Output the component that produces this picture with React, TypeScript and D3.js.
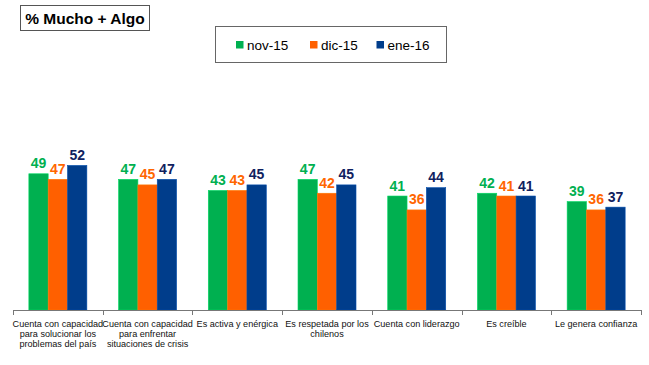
import React, { useEffect, useRef } from "react";
import * as d3 from "d3";

const categories = [
  ["Cuenta con capacidad", "para solucionar los", "problemas del país"],
  ["Cuenta con capacidad", "para enfrentar", "situaciones de crisis"],
  ["Es activa y enérgica"],
  ["Es respetada por los", "chilenos"],
  ["Cuenta con liderazgo"],
  ["Es creíble"],
  ["Le genera confianza"],
];
const seriesNames = ["nov-15", "dic-15", "ene-16"];
const nov15 = [49, 47, 43, 47, 41, 42, 39];
const dic15 = [47, 45, 43, 42, 36, 41, 36];
const ene16 = [52, 47, 45, 45, 44, 41, 37];
const barColors = ["#00B050", "#FF6000", "#003D8B"];
const labelColors = ["#00B050", "#FF6600", "#0F2160"];

const W = 649;
const H = 365;

const App = () => {
  const ref = useRef<SVGSVGElement>(null);

  useEffect(() => {
    const svg = d3.select(ref.current);
    svg.selectAll("*").remove();

    const values = [nov15, dic15, ene16];
    const keys = categories.map((c, i) => String(i));

    const x0 = d3.scaleBand().domain(keys).range([13, 641]).padding(0);
    const x1 = d3
      .scaleBand()
      .domain(seriesNames)
      .range([0, x0.bandwidth()])
      .paddingInner(0)
      .paddingOuter(0.82);
    const y = d3.scaleLinear().domain([0, 60]).range([310, 143.2]);

    // title box
    svg
      .append("rect")
      .attr("x", 20.5)
      .attr("y", 5.5)
      .attr("width", 129)
      .attr("height", 25)
      .attr("fill", "#fff")
      .attr("stroke", "#555")
      .attr("stroke-width", 1);
    svg
      .append("text")
      .attr("x", 85)
      .attr("y", 24)
      .attr("text-anchor", "middle")
      .style("font-family", "'Liberation Sans', Arial, sans-serif")
      .style("font-weight", "bold")
      .style("font-size", "15.5px")
      .attr("fill", "#000")
      .text("% Mucho + Algo");

    // legend
    svg
      .append("rect")
      .attr("x", 215.5)
      .attr("y", 26.5)
      .attr("width", 231)
      .attr("height", 36)
      .attr("fill", "#fff")
      .attr("stroke", "#666")
      .attr("stroke-width", 1);
    const legendX = [236, 310, 376.5];
    seriesNames.forEach((s, i) => {
      const g = svg.append("g").attr("transform", `translate(${legendX[i]},0)`);
      g.append("rect")
        .attr("x", 0)
        .attr("y", 41)
        .attr("width", 7.5)
        .attr("height", 7.5)
        .attr("fill", barColors[i]);
      g.append("text")
        .attr("x", 11)
        .attr("y", 49.5)
        .style("font-family", "'Liberation Sans', Arial, sans-serif")
        .style("font-size", "13.5px")
        .attr("fill", "#000")
        .text(s);
    });

    // bars
    const groups = svg
      .append("g")
      .selectAll("g")
      .data(keys)
      .join("g")
      .attr("transform", (k) => `translate(${x0(k)},0)`);

    seriesNames.forEach((s, si) => {
      groups
        .append("rect")
        .attr("x", x1(s)!)
        .attr("y", (k) => y(values[si][+k]))
        .attr("width", x1.bandwidth())
        .attr("height", (k) => y(0) - y(values[si][+k]))
        .attr("fill", barColors[si])
        .attr("stroke", d3.color(barColors[si])!.brighter(0.6).toString())
        .attr("stroke-width", 0.6);
      groups
        .append("text")
        .attr("x", x1(s)! + x1.bandwidth() / 2)
        .attr("y", (k) => y(values[si][+k]) - 5.5)
        .attr("text-anchor", "middle")
        .style("font-family", "'Liberation Sans', Arial, sans-serif")
        .style("font-weight", "bold")
        .style("font-size", "14px")
        .attr("fill", labelColors[si])
        .text((k) => values[si][+k]);
    });

    // axis
    const axis = svg.append("g");
    axis
      .append("line")
      .attr("x1", 13)
      .attr("x2", 641)
      .attr("y1", 310.5)
      .attr("y2", 310.5)
      .attr("stroke", "#777")
      .attr("stroke-width", 1);
    const bounds = keys.map((k) => x0(k)!).concat([641]);
    axis
      .selectAll("line.tick")
      .data(bounds)
      .join("line")
      .attr("class", "tick")
      .attr("x1", (d) => Math.round(d) + 0.5)
      .attr("x2", (d) => Math.round(d) + 0.5)
      .attr("y1", 310)
      .attr("y2", 315)
      .attr("stroke", "#777")
      .attr("stroke-width", 1);

    // category labels
    const lbl = svg
      .append("g")
      .selectAll("text")
      .data(keys)
      .join("text")
      .attr("text-anchor", "middle")
      .style("font-family", "'Liberation Sans', Arial, sans-serif")
      .style("font-size", "9.1px")
      .attr("fill", "#111");
    lbl
      .selectAll("tspan")
      .data((k) => categories[+k].map((line) => ({ k, line })))
      .join("tspan")
      .attr("x", (d) => x0(d.k)! + x0.bandwidth() / 2)
      .attr("y", (d, i) => 326.5 + i * 10)
      .text((d) => d.line);
  }, []);

  return (
    <svg
      ref={ref}
      width={W}
      height={H}
      style={{ position: "absolute", left: 0, top: 0, background: "#fff" }}
    />
  );
};

export default App;
